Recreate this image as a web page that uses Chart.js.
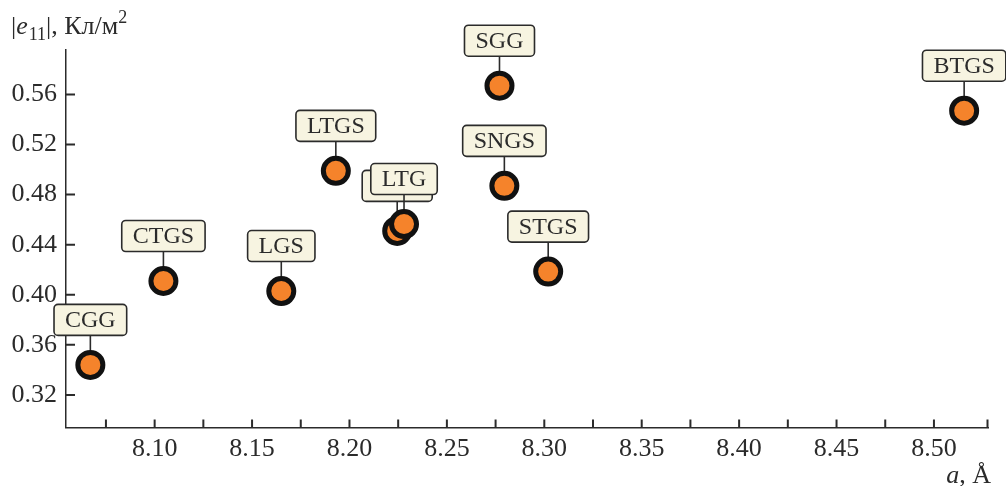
<!DOCTYPE html>
<html>
<head>
<meta charset="utf-8">
<script src="https://cdn.jsdelivr.net/npm/chart.js@4.4.1/dist/chart.umd.min.js"></script>
<style>
  html, body { margin: 0; padding: 0; background: #fff; }
  #wrap { width: 1006px; height: 486px; }
</style>
</head>
<body>
<div id="wrap"><canvas id="chart" width="1006" height="486"></canvas></div>
<script>
// crystal names (the one hidden behind LTG has no readable label)
const names = ['CGG', 'CTGS', 'LGS', 'LTGS', '', 'LTG', 'SGG', 'SNGS', 'STGS', 'BTGS']
// lattice parameter a, Å
const latticeA = [8.067, 8.1045, 8.165, 8.193, 8.2245, 8.228, 8.277, 8.2795, 8.302, 8.5155]
// |e11|, C/m^2
const e11 = [0.344, 0.411, 0.403, 0.499, 0.451, 0.4565, 0.567, 0.487, 0.4185, 0.547]

const xTicks = [8.075, 8.10, 8.125, 8.15, 8.175, 8.20, 8.225, 8.25, 8.275, 8.30,
                8.325, 8.35, 8.375, 8.40, 8.425, 8.45, 8.475, 8.50]
const xTickLabels = ['8.10', '8.15', '8.20', '8.25', '8.30', '8.35', '8.40', '8.45', '8.50']
const yTicks = [0.32, 0.36, 0.40, 0.44, 0.48, 0.52, 0.56]

const serif = '"Liberation Serif", "Times New Roman", serif'
const ink = '#2b2b2b'

// inward tick marks + label boxes with connectors (drawn under the points)
const calloutPlugin = {
  id: 'callouts',
  beforeDatasetsDraw(chart) {
    const ctx = chart.ctx
    const area = chart.chartArea
    const xs = chart.scales.x, ys = chart.scales.y
    ctx.save()
    ctx.strokeStyle = ink
    ctx.lineWidth = 2
    ctx.beginPath()
    xs.ticks.forEach(t => {
      const px = xs.getPixelForValue(t.value)
      ctx.moveTo(px, area.bottom)
      ctx.lineTo(px, area.bottom - 8)
    })
    ctx.moveTo(area.right - 1, area.bottom)
    ctx.lineTo(area.right - 1, area.bottom - 8)
    ys.ticks.forEach(t => {
      const py = ys.getPixelForValue(t.value)
      ctx.moveTo(area.left, py)
      ctx.lineTo(area.left + 9, py)
    })
    ctx.stroke()

    const meta = chart.getDatasetMeta(0)
    ctx.font = '24px ' + serif
    ctx.textAlign = 'center'
    ctx.textBaseline = 'middle'
    meta.data.forEach((pt, i) => {
      const name = names[i]
      const w = name ? ctx.measureText(name).width + 22 : 70
      const h = 31
      const bx = pt.x - w / 2
      const by = pt.y - 29.5 - h
      ctx.strokeStyle = ink
      ctx.lineWidth = 1.6
      ctx.beginPath()
      ctx.moveTo(pt.x, by + h)
      ctx.lineTo(pt.x, pt.y)
      ctx.stroke()
      ctx.beginPath()
      ctx.roundRect(bx, by, w, h, 4)
      ctx.fillStyle = '#f7f4e1'
      ctx.fill()
      ctx.stroke()
      ctx.fillStyle = ink
      ctx.fillText(name, pt.x, by + h / 2 + 1)
    })
    ctx.restore()
  }
}

// axis titles with italic symbol, subscript and superscript
const titlePlugin = {
  id: 'axisTitles',
  afterDraw(chart) {
    const ctx = chart.ctx
    ctx.save()
    ctx.fillStyle = ink
    ctx.textBaseline = 'alphabetic'
    ctx.textAlign = 'left'
    const parts = [
      ['|', '26px ' + serif, 0],
      ['e', 'italic 26px ' + serif, 0],
      ['11', '18px ' + serif, 6],
      ['|, Кл/м', '26px ' + serif, 0],
      ['2', '18px ' + serif, -11]
    ]
    let x = 11
    parts.forEach(([txt, font, dy]) => {
      ctx.font = font
      ctx.fillText(txt, x, 34 + dy)
      x += ctx.measureText(txt).width + (txt === 'e' ? 1 : 0)
    })

    ctx.font = '26px ' + serif
    const rest = ', Å'
    const rw = ctx.measureText(rest).width
    ctx.font = 'italic 26px ' + serif
    const aw = ctx.measureText('a').width
    const x0 = 991 - rw - aw
    ctx.fillText('a', x0, 483)
    ctx.font = '26px ' + serif
    ctx.fillText(rest, x0 + aw, 483)
    ctx.restore()
  }
}

new Chart(document.getElementById('chart'), {
  type: 'scatter',
  data: {
    datasets: [{
      data: latticeA.map((a, i) => ({ x: a, y: e11[i] })),
      pointRadius: 12.5,
      pointHoverRadius: 12.5,
      pointBorderWidth: 5,
      pointBackgroundColor: '#f5832b',
      pointBorderColor: '#111',
      clip: false
    }]
  },
  options: {
    responsive: false,
    animation: false,
    events: [],
    layout: { padding: { top: 50, right: 17, left: 0, bottom: 0 } },
    plugins: {
      legend: { display: false },
      tooltip: { enabled: false }
    },
    scales: {
      x: {
        type: 'linear',
        min: 8.0545,
        max: 8.528,
        afterBuildTicks: s => { s.ticks = xTicks.map(v => ({ value: v })) },
        afterFit: s => { s.height = 58.5 },
        grid: { display: false, drawTicks: false },
        border: { display: true, color: ink, width: 1.5 },
        ticks: {
          autoSkip: false,
          maxRotation: 0,
          padding: 6,
          color: ink,
          font: { family: serif, size: 26 },
          callback: v => {
            const s = v.toFixed(2)
            return xTickLabels.includes(s) && Math.abs(v - Number(s)) < 1e-6 ? s : ''
          }
        }
      },
      y: {
        type: 'linear',
        min: 0.294,
        max: 0.5955,
        afterBuildTicks: s => { s.ticks = yTicks.map(v => ({ value: v })) },
        afterFit: s => { s.width = 66 },
        grid: { display: false, drawTicks: false },
        border: { display: true, color: ink, width: 1.5 },
        ticks: {
          padding: 9,
          color: ink,
          font: { family: serif, size: 26 },
          callback: v => v.toFixed(2)
        }
      }
    }
  },
  plugins: [calloutPlugin, titlePlugin]
})
</script>
</body>
</html>
